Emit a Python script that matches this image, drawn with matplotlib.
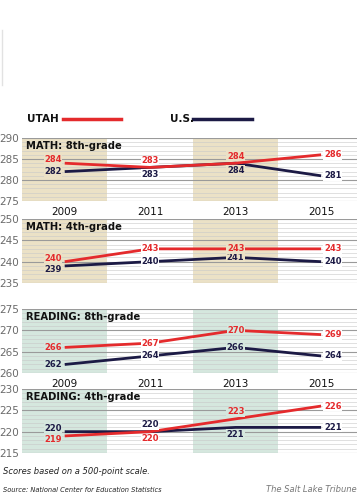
import matplotlib
matplotlib.use("Agg")
import matplotlib.pyplot as plt
from matplotlib.lines import Line2D

plt.rcParams['font.family'] = ['Liberation Sans Narrow', 'DejaVu Sans']

# Datos: puntajes NAEP, Utah vs. promedio de EE.UU.
years = ['2009', '2011', '2013', '2015']

math8_utah = [284, 283, 284, 286]
math8_us = [282, 283, 284, 281]
math4_utah = [240, 243, 243, 243]
math4_us = [239, 240, 241, 240]
read8_utah = [266, 267, 270, 269]
read8_us = [262, 264, 266, 264]
read4_utah = [219, 220, 223, 226]
read4_us = [220, 220, 221, 221]

titles = ['MATH: 8th-grade', 'MATH: 4th-grade', 'READING: 8th-grade', 'READING: 4th-grade']

RED = '#e42a2c'
NAVY = '#1c1a45'
BEIGE = '#ebe1c6'
GREEN = '#d5e7de'

# posiciones de cada panel en pixeles (arriba, abajo) y limites del eje y
panels = [
    dict(utah=math8_utah, us=math8_us, top=138, bot=201, ylim=(275, 290), shade=BEIGE,
         years=True, lab_utah='uaar', lab_us='lbbr'),
    dict(utah=math4_utah, us=math4_us, top=219, bot=283, ylim=(235, 250), shade=BEIGE,
         years=False, lab_utah='uccr', lab_us='dccr'),
    dict(utah=read8_utah, us=read8_us, top=309, bot=373, ylim=(260, 275), shade=GREEN,
         years=True, lab_utah='lccr', lab_us='lccr'),
    dict(utah=read4_utah, us=read4_us, top=389, bot=453, ylim=(215, 230), shade=GREEN,
         years=False, lab_utah='dbar', lab_us='uabr'),
]

# desplazamiento de etiquetas (puntos) segun codigo
offsets = {
    'l': (-2, 0, 'right'),
    'u': (-2, 2.5, 'right'),
    'd': (-2, -2.5, 'right'),
    'r': (2, 0, 'left'),
    'c': (0, 0, 'center'),
    'a': (0, 5, 'center'),
    'b': (0, -5, 'center'),
}

W, H = 359, 500
fig = plt.figure(figsize=(W / 100, H / 100), dpi=100)

X0, X1 = 22, 357


def add_labels(ax, values, codes, color, shade):
    for i, (v, code) in enumerate(zip(values, codes)):
        dx, dy, ha = offsets[code]
        bg = shade if i % 2 == 0 else 'white'
        ax.annotate(str(v), (i, v), xytext=(dx, dy), textcoords='offset points',
                    ha=ha, va='center', fontsize=6, fontweight='bold', color=color,
                    zorder=5, bbox=dict(boxstyle='square,pad=0.05', fc=bg, ec='none'))


for p, title in zip(panels, titles):
    ax = fig.add_axes([X0 / W, 1 - p['bot'] / H, (X1 - X0) / W, (p['bot'] - p['top']) / H])
    lo, hi = p['ylim']
    ax.set_xlim(-0.5, 3.42)
    ax.set_ylim(lo, hi)

    # columnas sombreadas
    ax.axvspan(-0.5, 0.5, color=p['shade'], lw=0, zorder=0)
    ax.axvspan(1.5, 2.5, color=p['shade'], lw=0, zorder=0)

    # lineas horizontales: finas cada punto, mas oscuras cada 5
    for y in range(lo, hi + 1):
        if (y - lo) % 5 == 0:
            ax.axhline(y, color='#9a9a9a', lw=0.8, zorder=1)
        else:
            ax.axhline(y, color='#c8c8c8', lw=0.5, zorder=1, alpha=0.8)

    x = range(len(years))
    ax.plot(x, p['us'], color=NAVY, lw=2, zorder=3, solid_capstyle='butt')
    ax.plot(x, p['utah'], color=RED, lw=2, zorder=4, solid_capstyle='butt')

    add_labels(ax, p['us'], p['lab_us'], NAVY, p['shade'])
    add_labels(ax, p['utah'], p['lab_utah'], RED, p['shade'])

    ax.annotate(title, (0, 1), xycoords='axes fraction', xytext=(3, -2),
                textcoords='offset points', ha='left', va='top',
                fontsize=7.2, fontweight='bold', color='#111111', zorder=6)

    ax.set_yticks(range(lo, hi + 1, 5))
    ax.tick_params(axis='y', length=0, pad=2, labelsize=7.5, labelcolor='#6a6a6a')
    ax.set_xticks(list(x))
    if p['years']:
        ax.set_xticklabels(years)
        ax.tick_params(axis='x', length=0, pad=4, labelsize=7.5, labelcolor='#111111')
    else:
        ax.set_xticklabels([])
        ax.tick_params(axis='x', length=0)
    for s in ax.spines.values():
        s.set_visible(False)

# leyenda
fig.text(27 / W, 1 - 119 / H, 'UTAH', fontsize=7.5, fontweight='bold', va='center', color='#111111')
fig.add_artist(Line2D([63 / W, 121 / W], [1 - 119 / H] * 2, color=RED, lw=2.5))
fig.text(170 / W, 1 - 119 / H, 'U.S.', fontsize=7.5, fontweight='bold', va='center', color='#111111')
fig.add_artist(Line2D([193 / W, 252 / W], [1 - 119 / H] * 2, color=NAVY, lw=2.5))

# linea gris tenue arriba a la izquierda
fig.add_artist(Line2D([1.5 / W, 1.5 / W], [1 - 30 / H, 1 - 85 / H], color='#e2e2e2', lw=1))

# notas
fig.text(3 / W, 1 - 472 / H, 'Scores based on a 500-point scale.', fontsize=6,
         style='italic', va='center', color='#222222')
fig.text(3 / W, 1 - 490 / H, 'Source: National Center for Education Statistics', fontsize=4.8,
         style='italic', va='center', color='#222222')
fig.text(357 / W, 1 - 490 / H, 'The Salt Lake Tribune', fontsize=6, style='italic',
         ha='right', va='center', color='#777777')

fig.savefig('out.png', dpi=100)
